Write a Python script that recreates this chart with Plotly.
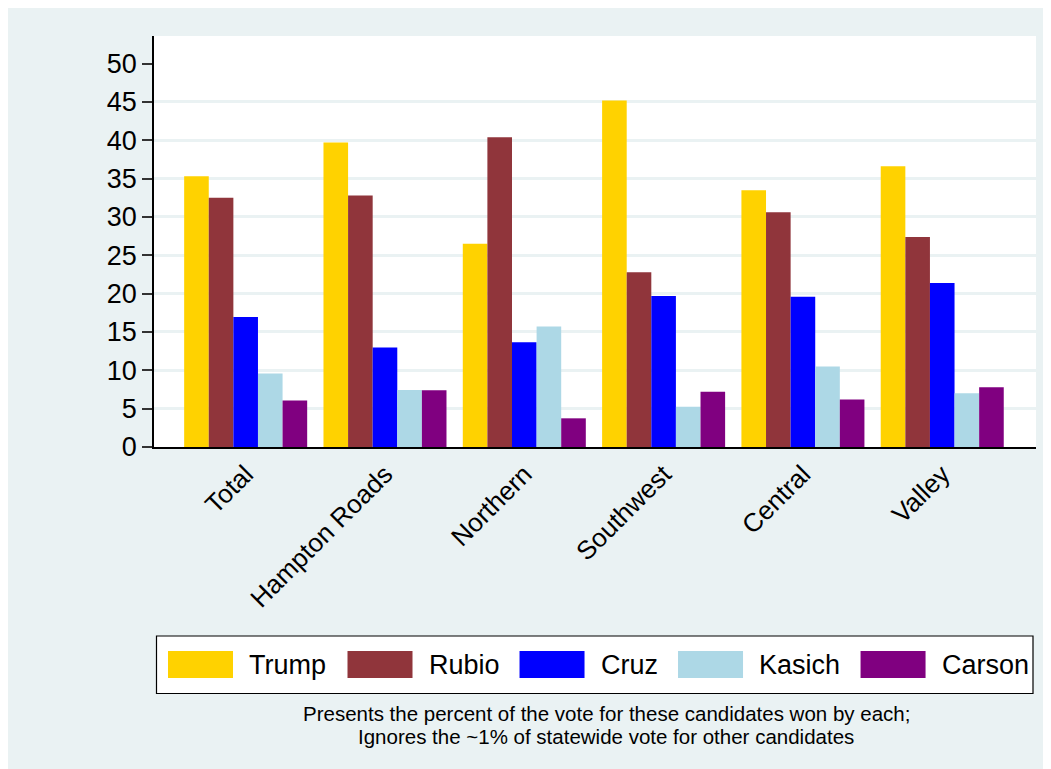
import plotly.graph_objects as go

# ---------------- data ----------------
categories = ["Total", "Hampton Roads", "Northern", "Southwest", "Central", "Valley"]
candidates = ["Trump", "Rubio", "Cruz", "Kasich", "Carson"]
trump = [35.3, 39.7, 26.5, 45.2, 33.5, 36.6]
rubio = [32.5, 32.8, 40.4, 22.8, 30.6, 27.4]
cruz = [16.95, 12.96, 13.65, 19.7, 19.6, 21.4]
kasich = [9.6, 7.44, 15.7, 5.26, 10.5, 7.0]
carson = [6.05, 7.4, 3.74, 7.2, 6.2, 7.8]
y_tick_values = [0, 5, 10, 15, 20, 25, 30, 35, 40, 45, 50]
grid_values = [5, 10, 15, 20, 25, 30, 35, 40, 45]
note_lines = [
    "Presents the percent of the vote for these candidates won by each;",
    "Ignores the ~1% of statewide vote for other candidates",
]

# ---------------- styles ----------------
series_values = [trump, rubio, cruz, kasich, carson]
series_colors = ["#FFD200", "#90353B", "#0000FF", "#ADD8E6", "#800080"]
BG = "#EAF2F3"
FONT = "Liberation Sans, Arial, sans-serif"

W, H = 1043, 761          # figure size (page body margin adds 8px offset)
OFF = 8                   # page offset of the figure
ML, MR, MT, MB = 146, 15, 28, 322
PW = W - ML - MR
PH = H - MT - MB


def fx(px):
    """page pixel x -> paper fraction"""
    return (px - OFF - ML) / PW


def fy(py):
    """page pixel y -> paper fraction"""
    return (H - MB - (py - OFF)) / PH


fig = go.Figure()
for name, vals, col in zip(candidates, series_values, series_colors):
    fig.add_trace(go.Bar(
        x=categories, y=vals, name=name,
        marker=dict(color=col, line=dict(width=0)),
        showlegend=False,
    ))

shapes = []
annotations = []

# legend box built from series names/colours
shapes.append(dict(type="rect", xref="paper", yref="paper", x0=fx(156.5), x1=fx(1033),
                   y0=fy(693.5), y1=fy(636), fillcolor="white",
                   line=dict(color="black", width=1.2), layer="below"))
ARIAL = {"T": 611, "r": 333, "u": 556, "m": 833, "p": 556, "R": 722, "b": 556, "i": 222,
         "o": 556, "C": 722, "z": 500, "K": 667, "a": 556, "s": 500, "c": 500, "h": 556,
         "n": 556}
LEG_FS = 27
sw_w, sw_h, gap_in, gap_out = 65, 27, 14, 22.5
cx = 168
cy = 664.5
for name, col in zip(candidates, series_colors):
    shapes.append(dict(type="rect", xref="paper", yref="paper", x0=fx(cx), x1=fx(cx + sw_w),
                       y0=fy(cy + sw_h / 2), y1=fy(cy - sw_h / 2), fillcolor=col,
                       line=dict(width=0), layer="above"))
    annotations.append(dict(text=name, xref="paper", yref="paper", x=fx(cx + sw_w + gap_in),
                            y=fy(cy), xanchor="left", yanchor="middle", showarrow=False,
                            font=dict(family=FONT, size=LEG_FS, color="black")))
    tw = sum(ARIAL.get(c, 556) for c in name) / 1000 * LEG_FS
    cx += sw_w + gap_in + tw + gap_out

for i, line in enumerate(note_lines):
    annotations.append(dict(text=line, xref="paper", yref="paper", x=fx(606), y=fy(713 + 23 * i),
                            xanchor="center", yanchor="middle", showarrow=False,
                            font=dict(family=FONT, size=20.5, color="black")))

fig.update_layout(
    width=W, height=H,
    margin=dict(l=ML, r=MR, t=MT, b=MB, pad=0),
    paper_bgcolor=BG, plot_bgcolor="white",
    barmode="group", bargap=0.117, bargroupgap=0,
    font=dict(family=FONT, color="black"),
    shapes=shapes, annotations=annotations,
    xaxis=dict(
        type="category", range=[-0.658, 5.673], showgrid=False, zeroline=False,
        showline=True, linecolor="black", linewidth=1.5, ticks="",
        tickangle=-45, tickfont=dict(family=FONT, size=26, color="black"),
    ),
    yaxis=dict(
        range=[0, 53.6], tickmode="array", tickvals=y_tick_values,
        showgrid=False, zeroline=False, showline=True, linecolor="black", linewidth=1.5,
        ticks="outside", ticklen=10, tickwidth=1.5, tickcolor="#333",
        tickfont=dict(family=FONT, size=27, color="black"),
        minor=dict(tickmode="array", tickvals=grid_values, showgrid=True,
                   gridcolor=BG, gridwidth=2.5, ticks=""),
    ),
    showlegend=False,
)

fig.write_html("out.html")
